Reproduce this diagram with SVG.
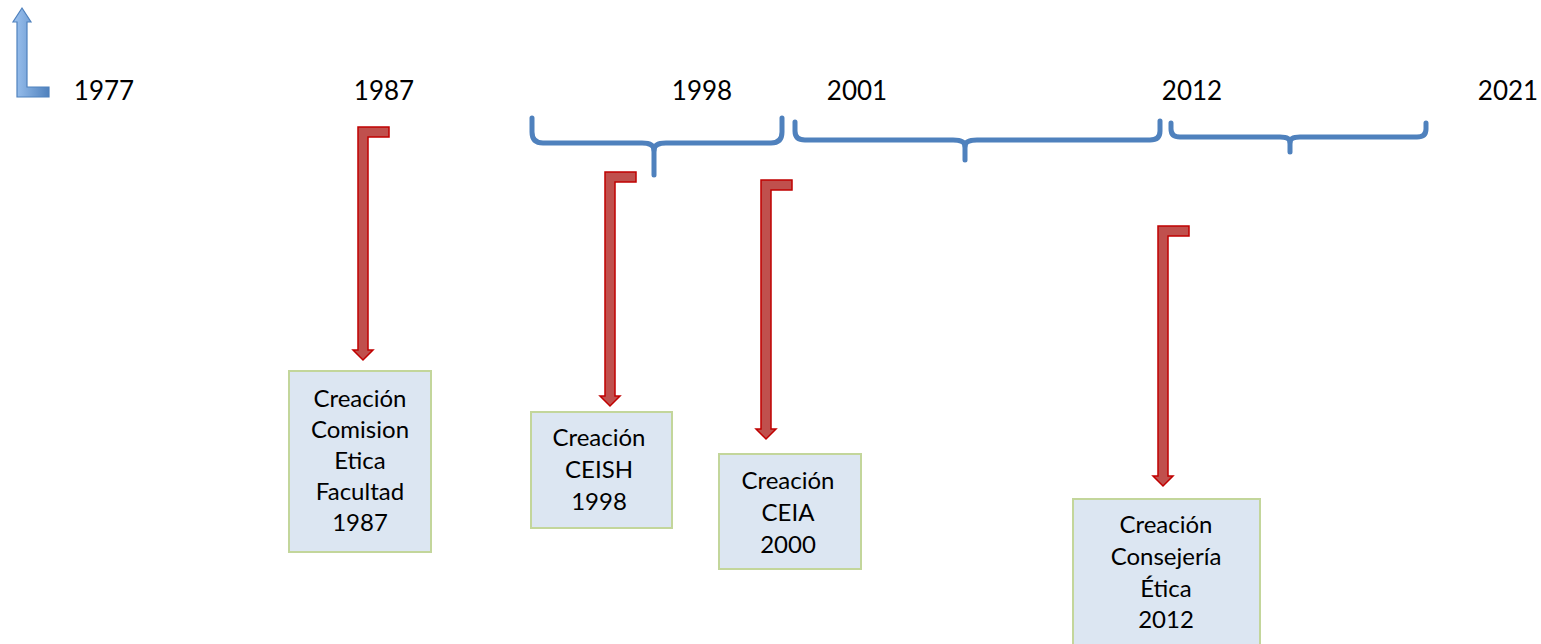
<svg xmlns="http://www.w3.org/2000/svg" width="1541" height="644" viewBox="0 0 1541 644">
<style>
.yr{font-family:Lato,"Liberation Sans",sans-serif;font-size:26px;fill:#000;text-anchor:middle}
.bt{font-family:Lato,"Liberation Sans",sans-serif;font-size:24px;fill:#000;text-anchor:middle}
.box{fill:#dce6f2;stroke:#c3d69b;stroke-width:2}
.arr{fill:#c0504d;stroke:#c00000;stroke-width:1.5;stroke-linejoin:miter}
.brace{fill:none;stroke:#4f81bd;stroke-width:5;stroke-linecap:round;stroke-linejoin:round}
</style>
<defs>
<linearGradient id="blueg" x1="0" y1="0" x2="1" y2="0">
<stop offset="0" stop-color="#9dc3f0"/>
<stop offset="1" stop-color="#4f81bd"/>
</linearGradient>
</defs>
<g id="axis-arrow">
<path d="M17 22 H13 L22 8 L31 22 H27 V87 H49 V97 H17 Z" fill="url(#blueg)" stroke="#4f81bd" stroke-width="1.2"/>
</g>
<g id="years">
<text class="yr" x="104" y="100">1977</text>
<text class="yr" x="384" y="100">1987</text>
<text class="yr" x="702" y="100">1998</text>
<text class="yr" x="857" y="100">2001</text>
<text class="yr" x="1192" y="100">2012</text>
<text class="yr" x="1508" y="100">2021</text>
</g>
<g id="braces">
<path class="brace" d="M532 118 V132 Q532 143 543 143 H642 Q654 143 654 150 Q654 143 666 143 H771 Q782 143 782 132 V118"/>
<path class="brace" d="M654 148 V175"/>
<path class="brace" d="M795 122 V131 Q795 140 805 140 H953 Q965 140 965 146 Q965 140 977 140 H1150 Q1160 140 1160 131 V121"/>
<path class="brace" d="M965 145 V160"/>
<path class="brace" d="M1171 123 V129 Q1171 137 1180 137 H1280 Q1290 137 1290 142 Q1290 137 1300 137 H1417 Q1426 137 1426 129 V123"/>
<path class="brace" d="M1290 141 V152"/>
</g>
<g id="connectors">
<path class="arr" d="M358 127 h31 v10 h-21 v213 h5 l-10 10 l-10 -10 h5 z"/>
<path class="arr" d="M605 172 h31 v10 h-21 v214 h5 l-10 10 l-10 -10 h5 z"/>
<path class="arr" d="M761 180 h31 v10 h-21 v239 h5 l-10 10 l-10 -10 h5 z"/>
<path class="arr" d="M1158 226 h31 v10 h-21 v240 h5 l-10 10 l-10 -10 h5 z"/>
</g>
<g id="node-1987">
<rect class="box" x="289" y="371" width="142" height="181"/>
<text class="bt" x="360" y="407">Creación</text>
<text class="bt" x="360" y="438">Comision</text>
<text class="bt" x="360" y="469">Etica</text>
<text class="bt" x="360" y="500">Facultad</text>
<text class="bt" x="360" y="531">1987</text>
</g>
<g id="node-1998">
<rect class="box" x="531" y="412" width="141" height="116"/>
<text class="bt" x="599" y="446">Creación</text>
<text class="bt" x="599" y="478">CEISH</text>
<text class="bt" x="599" y="510">1998</text>
</g>
<g id="node-2000">
<rect class="box" x="719" y="454" width="142" height="115"/>
<text class="bt" x="788" y="489">Creación</text>
<text class="bt" x="788" y="521">CEIA</text>
<text class="bt" x="788" y="553">2000</text>
</g>
<g id="node-2012">
<rect class="box" x="1073" y="499" width="187" height="150"/>
<text class="bt" x="1166" y="533">Creación</text>
<text class="bt" x="1166" y="565">Consejería</text>
<text class="bt" x="1166" y="597">Ética</text>
<text class="bt" x="1166" y="628">2012</text>
</g>
</svg>
